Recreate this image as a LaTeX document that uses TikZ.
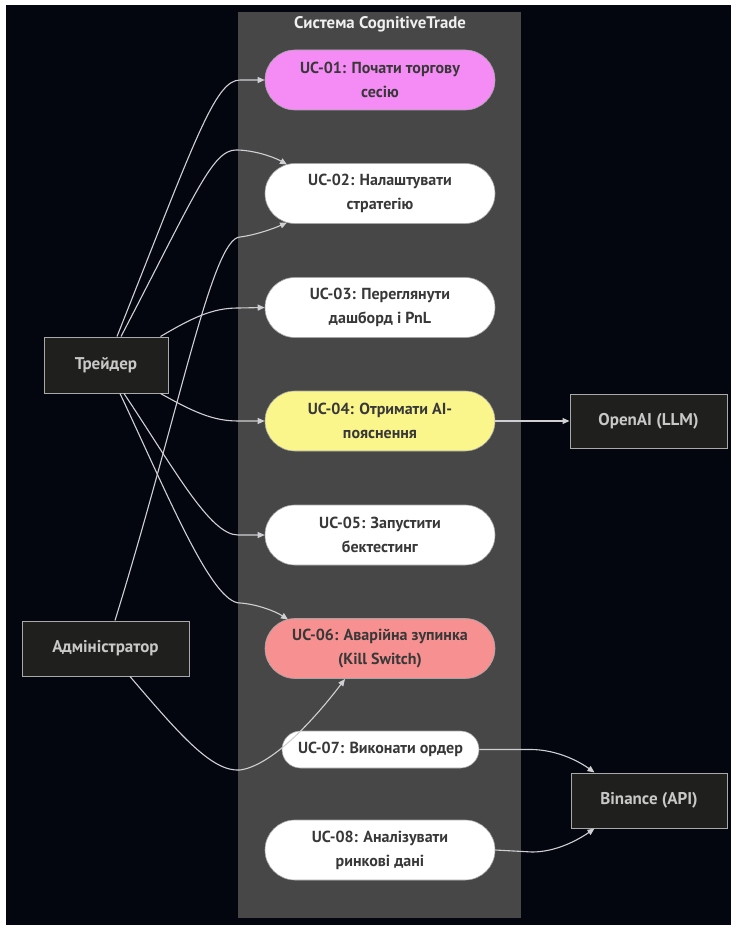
\documentclass[tikz,border=0pt]{standalone}
\usepackage{fontspec}
\setmainfont{PT Sans}
\usetikzlibrary{arrows.meta,shapes.misc,calc}
\definecolor{bgnavy}{HTML}{03050F}
\definecolor{sysgray}{HTML}{474747}
\definecolor{actorfill}{HTML}{1F201D}
\definecolor{actorline}{HTML}{A9A9A9}
\definecolor{actortext}{HTML}{C8C8C8}
\definecolor{linkgray}{HTML}{D0D0D4}
\definecolor{ucviolet}{HTML}{F58CF5}
\definecolor{ucyellow}{HTML}{FAF68C}
\definecolor{ucred}{HTML}{F79191}
\definecolor{uctext}{HTML}{383838}
\begin{document}
\begin{tikzpicture}[x=1pt,y=-1pt,
  sysbox/.style={rectangle,fill=sysgray,minimum width=283pt,minimum height=906pt,inner sep=0pt},
  systitle/.style={text=white!88!gray,font=\fontsize{16.8}{19}\bfseries},
  usecase/.style={rounded rectangle,fill=white,draw=black!35,line width=0.6pt,
    minimum width=230pt,minimum height=60pt,inner sep=0pt,align=center,
    text=uctext,font=\fontsize{16}{24}\bfseries},
  actor/.style={rectangle,fill=actorfill,draw=actorline,line width=1pt,
    minimum height=56pt,inner sep=0pt,text=actortext,font=\fontsize{17}{20}\bfseries},
  link/.style={draw=linkgray,line width=1.1pt,-{Triangle[length=7pt,width=6pt]}}
]
\useasboundingbox (0,0) rectangle (731,925);
\fill[white] (0,0) rectangle (731,925);
\fill[bgnavy] (6,5) rectangle (731,925);

% system boundary
\node[sysbox] (sys) at (379.5,465) {};
\node[systitle] (systitle) at (380,24) {Система CognitiveTrade};

% use cases
\node[usecase,fill=ucviolet] (uc1) at (380,80) {UC-01: Почати торгову\\сесію};
\node[usecase] (uc2) at (380,193.5) {UC-02: Налаштувати\\стратегію};
\node[usecase] (uc3) at (380,307.5) {UC-03: Переглянути\\дашборд і PnL};
\node[usecase,fill=ucyellow] (uc4) at (380,421) {UC-04: Отримати AI-\\пояснення};
\node[usecase] (uc5) at (380,535) {UC-05: Запустити\\бектестинг};
\node[usecase,fill=ucred] (uc6) at (380,648.5) {UC-06: Аварійна зупинка\\(Kill Switch)};
\node[usecase,minimum width=197pt,minimum height=37pt] (uc7) at (380.5,749.5) {UC-07: Виконати ордер};
\node[usecase] (uc8) at (380,850) {UC-08: Аналізувати\\ринкові дані};

% actors
\node[actor,minimum width=124pt] (trader) at (106,365) {Трейдер};
\node[actor,minimum width=167pt,minimum height=55pt] (admin) at (105.5,648.5) {Адміністратор};
\node[actor,minimum width=157pt,minimum height=54pt] (openai) at (648.5,421) {OpenAI (LLM)};
\node[actor,minimum width=156pt,minimum height=55pt] (binance) at (649,800.5) {Binance (API)};

% trader links
\draw[link] ($(trader.north)+(11,0)$) .. controls (195,140) and (215,80) .. (240,80) -- (uc1.west);
\draw[link] ($(trader.north)+(15,0)$) .. controls (195,195) and (212,150) .. (236,150)
  .. controls (252,150) and (272,156) .. ($(uc2.center)+(-93,-29)$);
\draw[link] ($(trader.north east)+(-8,0)$) .. controls (192,318) and (212,308) .. (238,308) -- (uc3.west);
\draw[link] ($(trader.south east)+(-8,0)$) .. controls (192,411) and (212,421) .. (238,421) -- (uc4.west);
\draw[link] ($(trader.south)+(18,0)$) .. controls (175,470) and (210,535) .. (238,535) -- (uc5.west);
\draw[link] ($(trader.south)+(14,0)$) .. controls (170,500) and (212,603) .. (240,603)
  .. controls (256,604) and (275,611) .. ($(uc6.center)+(-92,-29)$);

% administrator links
\draw[link] ($(admin.north)+(9.5,0)$) .. controls (180,410) and (212,238) .. (240,237)
  .. controls (256,235) and (275,228) .. ($(uc2.center)+(-93,29)$);
\draw[link] ($(admin.south)+(24.5,0)$) .. controls (180,735) and (212,772) .. (240,770)
  .. controls (275,765) and (320,712) .. ($(uc6.center)+(-35,30.5)$);

% external systems
\draw[link] (uc4.east) -- (openai.west);
\draw[link] (uc7.east) -- (532,749.5) .. controls (556,750) and (577,760) .. ($(binance.north west)+(24,0)$);
\draw[link] (uc8.east) -- (532,852) .. controls (556,852) and (578,840) .. ($(binance.south west)+(24,0)$);
\end{tikzpicture}
\end{document}
